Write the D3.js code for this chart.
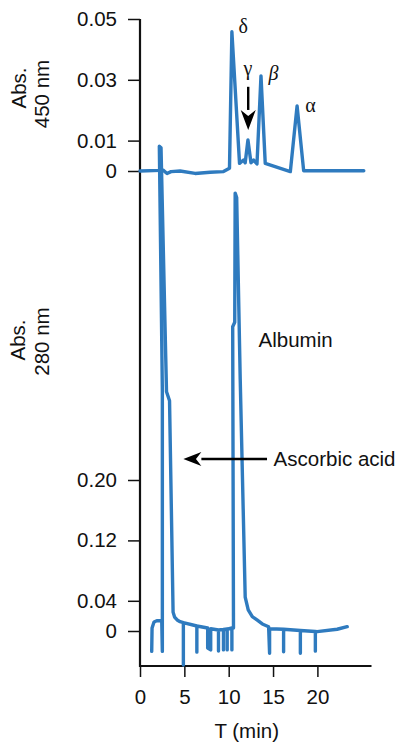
<!DOCTYPE html>
<html>
<head>
<meta charset="utf-8">
<script src="https://cdn.jsdelivr.net/npm/d3@7"></script>
<style>
  body { margin: 0; background: #fff; }
  svg { display: block; }
</style>
</head>
<body>
<svg id="chart" width="401" height="746"></svg>
<script>
// elution time (min) / absorbance
const time450 = [0, 2.26, 2.6, 3.05, 3.5, 4.52, 6.21, 7.91, 9.41, 10.09, 10.36, 11.22, 11.67, 11.86, 12.17,
                 12.51, 12.81, 13.19, 13.64, 14.12, 16.95, 17.71, 18.45, 25.23];
const abs450  = [0, 0.0002, 0.0003, -0.0008, -0.0002, 0, -0.0008, -0.0004, -0.0002, 0.0009, 0.0458, 0.0025, 0.0036, 0.0027, 0.0102,
                 0.0027, 0.0036, 0.0023, 0.0313, 0.0025, -0.0002, 0.0214, 0.0001, 0.0001];

const time280 = [1.32, 1.36, 1.58, 1.89, 2.45, 2.52, 2.52, 2.18, 2.37, 2.99, 3.33, 3.73, 3.9, 4.19, 4.52,
                 4.89, 4.89, 4.89, 6.41, 6.41, 6.41, 7.63, 7.63, 7.97, 7.97, 8.85, 8.85, 8.85,
                 9.41, 9.41, 9.41, 9.83, 9.83, 9.83, 10.36, 10.36, 10.36, 10.54,
                 10.45, 10.68, 10.73, 10.9, 11.3, 11.86, 12.2, 12.66, 13.19, 13.79, 14.5,
                 14.61, 14.61, 16.19, 16.19, 16.19, 18.08, 18.08, 18.08, 19.77, 19.77, 19.77, 19.97, 22.23, 23.36];
const abs280  = [-0.027, 0.004, 0.012, 0.0136, 0.0136, -0.027, 0.319, 0.642, 0.64, 0.317, 0.305, 0.025, 0.0185, 0.0146, 0.0123,
                 0.011, -0.045, 0.011, 0.0066, -0.028, 0.0066, 0.004, -0.0225, -0.025, 0.003, 0.0013, -0.0265, 0.0013,
                 0.002, -0.025, 0.002, 0.0026, -0.025, 0.0026, 0.004, -0.025, 0.004, 0.004,
                 0.403, 0.409, 0.58, 0.574, 0.333, 0.045, 0.028, 0.019, 0.0146, 0.0093, 0.0057,
                 -0.0295, 0.003, 0.0023, -0.0274, 0.0023, 0.0007, -0.0295, 0.0007, -0.0007, -0.0267, -0.0007, -0.0009, 0.0023, 0.0057];

const xTicks = [0, 5, 10, 15, 20];
const ticks450 = [0, 0.01, 0.03, 0.05];
const ticks280 = [0, 0.04, 0.12, 0.20];

// peak names on the 450 nm trace
const peakNames = ["δ", "γ", "β", "α"];
const peakTime  = [11.1, 12.17, 14.5, 18.64];
const peakAbs   = [0.0453, 0.0316, 0.0298, 0.0195];

const svg = d3.select("#chart");
const sans = '"Liberation Sans", Arial, Helvetica, sans-serif';
const serif = '"Liberation Serif", "Times New Roman", serif';
const blue = "#2f7bbf";
const fs = 20.5;

const axisY = 666;
const x = d3.scaleLinear().domain([0, 26.1]).range([140, 371.5]);
const yTop = d3.scaleLinear().domain([0, 0.05]).range([171, 19]);
const yBot = d3.scaleLinear().domain([0, 0.2]).range([631, 480]);

const fmt = d => d === 0 ? "0" : d3.format(".2f")(d);

function styleAxis(g){
    g.select(".domain").remove();
    g.attr("font-family", sans).attr("font-size", fs);
    g.selectAll(".tick line").attr("stroke", "#111").attr("stroke-width", 1.5);
    g.selectAll(".tick text").attr("fill", "#111");
}

svg.append("g")
    .attr("transform", `translate(${x(0)},0)`)
    .call(d3.axisLeft(yTop).tickValues(ticks450).tickFormat(fmt).tickSize(12).tickPadding(11))
    .call(styleAxis);

svg.append("g")
    .attr("transform", `translate(${x(0)},0)`)
    .call(d3.axisLeft(yBot).tickValues(ticks280).tickFormat(fmt).tickSize(12).tickPadding(11))
    .call(styleAxis);

svg.append("g")
    .attr("transform", `translate(0,${axisY})`)
    .call(d3.axisBottom(x).tickValues(xTicks).tickSize(11).tickPadding(12.5))
    .call(styleAxis);

// axis lines
svg.append("path")
    .attr("d", `M${x(0)},${yTop(0.05)}V${axisY}H${x.range()[1]}`)
    .attr("fill", "none")
    .attr("stroke", "#111")
    .attr("stroke-width", 2.2);

// traces
const line450 = d3.line().x(d => x(d[0])).y(d => yTop(d[1]));
const line280 = d3.line().x(d => x(d[0])).y(d => yBot(d[1]));

svg.append("path")
    .datum(d3.zip(time280, abs280))
    .attr("d", line280)
    .attr("fill", "none")
    .attr("stroke", blue)
    .attr("stroke-width", 3.4)
    .attr("stroke-linejoin", "round")
    .attr("stroke-linecap", "round");

svg.append("path")
    .datum(d3.zip(time450, abs450))
    .attr("d", line450)
    .attr("fill", "none")
    .attr("stroke", blue)
    .attr("stroke-width", 3.4)
    .attr("stroke-linejoin", "round")
    .attr("stroke-linecap", "round");

// greek peak labels
svg.selectAll(".peak")
    .data(peakNames)
    .enter().append("text")
    .attr("class", "peak")
    .attr("x", (d, i) => x(peakTime[i]))
    .attr("y", (d, i) => yTop(peakAbs[i]))
    .attr("text-anchor", (d, i) => i === 1 ? "middle" : "start")
    .attr("font-family", serif)
    .attr("font-size", 20)
    .attr("font-style", d => d === "β" ? "italic" : "normal")
    .attr("fill", "#111")
    .text(d => d);

// arrows
function arrow(x1, y1, x2, y2, len, half){
    const a = Math.atan2(y2 - y1, x2 - x1);
    const bx = x2 - len * Math.cos(a), by = y2 - len * Math.sin(a);
    svg.append("line")
        .attr("x1", x1).attr("y1", y1).attr("x2", bx).attr("y2", by)
        .attr("stroke", "#000").attr("stroke-width", 2.4);
    const nx = -Math.sin(a) * half, ny = Math.cos(a) * half;
    svg.append("path")
        .attr("d", `M${x2},${y2}L${bx + nx},${by + ny}L${bx + len * 0.3 * Math.cos(a)},${by + len * 0.3 * Math.sin(a)}L${bx - nx},${by - ny}Z`)
        .attr("fill", "#000");
}
arrow(x(12.2), yTop(0.0277), x(12.2), yTop(0.0135), 20, 7.5);
arrow(x(14.32), yBot(0.2278), x(4.89), yBot(0.2278), 18, 7);

// annotations
svg.append("text")
    .attr("x", x(13.37)).attr("y", yBot(0.3766))
    .attr("font-family", sans).attr("font-size", fs).attr("fill", "#111")
    .text("Albumin");
svg.append("text")
    .attr("x", x(15.06)).attr("y", yBot(0.219))
    .attr("font-family", sans).attr("font-size", fs).attr("fill", "#111")
    .text("Ascorbic acid");

// axis titles
const titles = [
    {text: "Abs.", x: 26, y: 88},
    {text: "450 nm", x: 49, y: 94},
    {text: "Abs.", x: 25, y: 340},
    {text: "280 nm", x: 48.5, y: 341.5}
];
svg.selectAll(".ytitle")
    .data(titles)
    .enter().append("text")
    .attr("class", "ytitle")
    .attr("transform", d => `translate(${d.x},${d.y}) rotate(-90)`)
    .attr("text-anchor", "middle")
    .attr("font-family", sans).attr("font-size", fs).attr("fill", "#111")
    .text(d => d.text);

svg.append("text")
    .attr("x", 246.7).attr("y", 738.3)
    .attr("text-anchor", "middle")
    .attr("font-family", sans).attr("font-size", fs).attr("fill", "#111")
    .text("T (min)");
</script>
</body>
</html>
